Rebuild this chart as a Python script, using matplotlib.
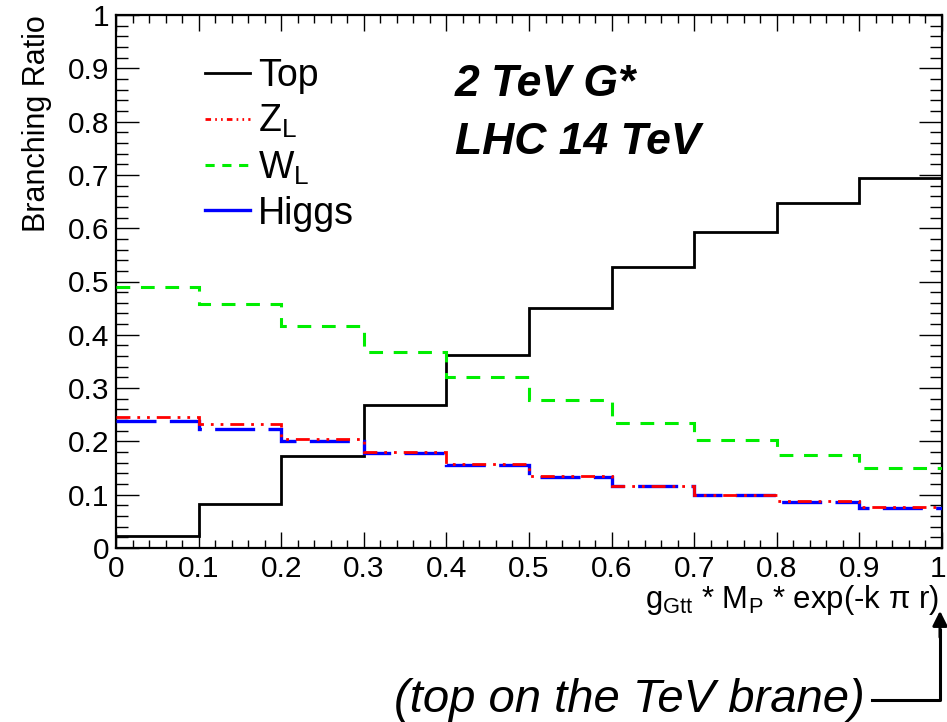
import matplotlib
matplotlib.use("Agg")
import matplotlib.pyplot as plt
from matplotlib.lines import Line2D
from matplotlib.patches import FancyArrowPatch
from matplotlib.ticker import MultipleLocator, FixedLocator
from matplotlib.transforms import ScaledTranslation

plt.rcParams['font.family'] = ['Liberation Sans', 'DejaVu Sans']
plt.rcParams['mathtext.fontset'] = 'custom'
plt.rcParams['mathtext.rm'] = 'Liberation Sans'
plt.rcParams['mathtext.it'] = 'Liberation Sans:italic'
plt.rcParams['mathtext.default'] = 'regular'

# ---- data ----
bin_edges = [0.0, 0.1, 0.2, 0.3, 0.4, 0.5, 0.6, 0.7, 0.8, 0.9, 1.0]
top_br = [0.022, 0.083, 0.173, 0.268, 0.363, 0.451, 0.528, 0.592, 0.648, 0.695]
zl_br = [0.246, 0.232, 0.204, 0.180, 0.158, 0.136, 0.117, 0.100, 0.088, 0.076]
wl_br = [0.489, 0.457, 0.416, 0.368, 0.321, 0.278, 0.234, 0.202, 0.174, 0.150]
higgs_br = [0.239, 0.223, 0.201, 0.178, 0.155, 0.134, 0.116, 0.099, 0.087, 0.075]
x_ticks = [0, 0.1, 0.2, 0.3, 0.4, 0.5, 0.6, 0.7, 0.8, 0.9, 1]
x_tick_labels = ['0', '0.1', '0.2', '0.3', '0.4', '0.5', '0.6', '0.7', '0.8', '0.9', '1']
y_ticks = [0, 0.1, 0.2, 0.3, 0.4, 0.5, 0.6, 0.7, 0.8, 0.9, 1]
y_tick_labels = ['0', '0.1', '0.2', '0.3', '0.4', '0.5', '0.6', '0.7', '0.8', '0.9', '1']

W, H = 947, 722
fig = plt.figure(figsize=(W / 100, H / 100), dpi=100)
L, R, T, B = 116, 942, 15, 548
ax = fig.add_axes([L / W, 1 - B / H, (R - L) / W, (B - T) / H])

ax.stairs(top_br, bin_edges, baseline=None, color='black', lw=2.0, zorder=3)
ax.stairs(wl_br, bin_edges, baseline=None, color='#00ee00', lw=2.2, linestyle=(0, (4.5, 3.5)), zorder=3)
ax.stairs(higgs_br, bin_edges, baseline=None, color='#0000ff', lw=2.4, linestyle=(0, (12, 4)), zorder=3)
ax.stairs(zl_br, bin_edges, baseline=None, color='#ff0000', lw=2.0,
          linestyle=(0, (5, 2.5, 1, 2.5, 1, 2.5)), zorder=4)

ax.set_xlim(0, 1)
ax.set_ylim(0, 1)
ax.xaxis.set_major_locator(FixedLocator(x_ticks))
ax.set_xticklabels(x_tick_labels)
ax.yaxis.set_major_locator(FixedLocator(y_ticks))
ax.set_yticklabels(y_tick_labels)
ax.xaxis.set_minor_locator(MultipleLocator(0.02))
ax.yaxis.set_minor_locator(MultipleLocator(0.02))
ax.tick_params(axis='both', which='both', direction='in', top=True, right=True, colors='black', width=1.0)
ax.tick_params(axis='x', which='major', length=11.5, pad=5, labelsize=21.5)
ax.tick_params(axis='x', which='minor', length=5.8)
ax.tick_params(axis='y', which='major', length=16.5, pad=5, labelsize=21.5)
ax.tick_params(axis='y', which='minor', length=8.6)
for sp in ax.spines.values():
    sp.set_linewidth(1.6)

last = ax.get_xticklabels()[-1]
last.set_transform(last.get_transform() + ScaledTranslation(-4 / 100, 0, fig.dpi_scale_trans))

ax.set_ylabel('Branching Ratio', fontsize=22, loc='top')
ax.yaxis.set_label_coords(-0.078, 1.0)
ax.set_xlabel('$g_{Gtt}$ * $M_{P}$ * exp(-k π r)', fontsize=22.4, loc='right')
ax.xaxis.set_label_coords((939 - L) / (R - L), (B - 583) / (B - T))

handles = [Line2D([], [], color='black', lw=2.0),
           Line2D([], [], color='#ff0000', lw=2.0, linestyle=(0, (2, 1.5, 0.6, 1.5, 0.6, 1.5))),
           Line2D([], [], color='#00ee00', lw=2.2, linestyle=(0, (3, 2.5))),
           Line2D([], [], color='#0000ff', lw=2.4)]
labels = ['Top', '$Z_{L}$', '$W_{L}$', 'Higgs']
ax.legend(handles, labels, loc='upper left', bbox_to_anchor=((205 - L) / (R - L), (B - 58) / (B - T)),
          frameon=False, fontsize=27, handlelength=1.2, handletextpad=0.22, labelspacing=0.24,
          borderpad=0, borderaxespad=0)

ax.text((455 - L) / (R - L), (B - 96) / (B - T), '2 TeV G*', transform=ax.transAxes,
        fontsize=32, fontweight='bold', fontstyle='italic', va='baseline', ha='left')
ax.text((455 - L) / (R - L), (B - 154) / (B - T), 'LHC 14 TeV', transform=ax.transAxes,
        fontsize=32, fontweight='bold', fontstyle='italic', va='baseline', ha='left')

fig.text(865 / W, 1 - 712 / H, '(top on the TeV brane)', fontsize=34, fontstyle='italic',
         ha='right', va='baseline')

def fp(x, y):
    return (x / W, 1 - y / H)

fig.add_artist(Line2D([fp(872, 0)[0], fp(940, 0)[0], fp(940, 0)[0]],
                      [fp(0, 700)[1], fp(0, 700)[1], fp(0, 630)[1]],
                      transform=fig.transFigure, color='black', lw=2.2))
fig.add_artist(FancyArrowPatch(fp(940, 640), fp(940, 608), transform=fig.transFigure,
                               arrowstyle='-|>', mutation_scale=22, color='black', lw=2.2))

fig.savefig('out.png', dpi=100)
